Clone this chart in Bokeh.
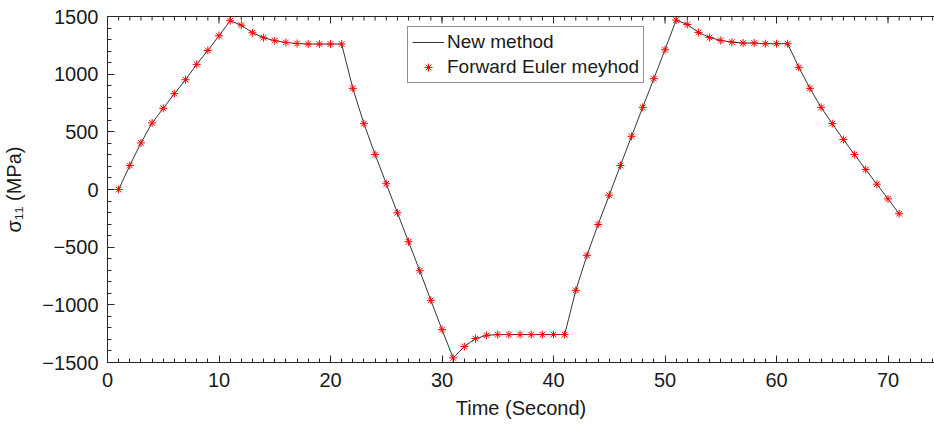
import math

from bokeh.embed import file_html
from bokeh.models import (FixedTicker, Legend, LegendItem, LinearAxis,
                          Range1d)
from bokeh.plotting import figure
from bokeh.resources import INLINE

# Time steps (s) and stress sigma_11 (MPa)
time_s = list(range(1, 72))

new_method = [
    0, 208, 404, 577, 704, 831, 952, 1085, 1206, 1333, 1463,
    1425, 1359, 1316, 1290, 1275, 1266, 1261, 1261, 1261, 1261,
    877, 571, 303, 50, -202, -453, -704, -961, -1215, -1460,
    -1362, -1293, -1264, -1258, -1258, -1258, -1258, -1258, -1258, -1258,
    -874, -571, -303, -49, 208, 461, 712, 961, 1212, 1469,
    1431, 1362, 1318, 1292, 1278, 1270, 1270, 1264, 1264, 1264,
    1059, 877, 712, 571, 433, 303, 173, 46, -81, -210,
]

forward_euler = [
    0, 208, 404, 577, 704, 831, 952, 1085, 1206, 1333, 1463,
    1425, 1359, 1316, 1290, 1275, 1266, 1261, 1261, 1261, 1261,
    877, 571, 303, 50, -202, -453, -704, -961, -1215, -1460,
    -1362, -1293, -1264, -1258, -1258, -1258, -1258, -1258, -1258, -1258,
    -874, -571, -303, -49, 208, 461, 712, 961, 1212, 1469,
    1431, 1362, 1318, 1292, 1278, 1270, 1270, 1264, 1264, 1264,
    1059, 877, 712, 571, 433, 303, 173, 46, -81, -210,
]

x_major = [0, 10, 20, 30, 40, 50, 60, 70]
x_minor = list(range(0, 75))
y_major = [-1500, -1000, -500, 0, 500, 1000, 1500]
y_minor = list(range(-1500, 1501, 100))

X_MAX = 74.17
Y_MIN, Y_MAX = -1500, 1500

FONT = "Liberation Sans"
AXIS_COLOR = "#262626"
TEXT_COLOR = "#1a1a1a"

p = figure(
    width=934, height=425,
    output_backend="svg", toolbar_location=None,
    x_range=Range1d(0, X_MAX), y_range=Range1d(Y_MIN, Y_MAX),
    x_axis_type=None, y_axis_type=None,
    min_border_left=107, min_border_right=0,
    min_border_top=16, min_border_bottom=63,
)
p.outline_line_color = None
p.background_fill_color = "white"
p.border_fill_color = "white"
p.xgrid.visible = False
p.ygrid.visible = False

x_ticker = FixedTicker(ticks=x_major, minor_ticks=x_minor)
y_ticker = FixedTicker(ticks=y_major, minor_ticks=y_minor)


def style_axis(ax):
    ax.axis_line_color = AXIS_COLOR
    ax.axis_line_width = 1
    ax.major_tick_line_color = AXIS_COLOR
    ax.minor_tick_line_color = AXIS_COLOR
    ax.major_tick_in = 7
    ax.major_tick_out = 0
    ax.minor_tick_in = 4
    ax.minor_tick_out = 0
    ax.major_label_text_font = FONT
    ax.major_label_text_font_size = "20px"
    ax.major_label_text_color = TEXT_COLOR
    ax.axis_label_text_font = FONT
    ax.axis_label_text_font_size = "20px"
    ax.axis_label_text_font_style = "normal"
    ax.axis_label_text_color = TEXT_COLOR


bottom = LinearAxis(ticker=x_ticker, axis_label="Time (Second)")
style_axis(bottom)
bottom.major_label_standoff = 10
bottom.axis_label_standoff = 7
p.add_layout(bottom, "below")

left = LinearAxis(ticker=y_ticker, axis_label="σ₁₁ (MPa)")
style_axis(left)
left.major_label_standoff = 9
left.axis_label_standoff = 14
p.add_layout(left, "left")

# Top box edge: a bare axis line, with inward ticks drawn as clipped dashes
top = LinearAxis(ticker=FixedTicker(ticks=[]))
top.axis_line_color = AXIS_COLOR
top.major_tick_line_color = None
top.minor_tick_line_color = None
p.add_layout(top, "above")

p.scatter(x_major, [Y_MAX] * len(x_major), marker="dash", angle=math.pi / 2,
          size=14, line_color=AXIS_COLOR, line_width=1)
p.scatter(x_minor, [Y_MAX] * len(x_minor), marker="dash", angle=math.pi / 2,
          size=8, line_color=AXIS_COLOR, line_width=1)

# Curves
line_r = p.line(time_s, new_method, line_color="black", line_width=0.8)
pts_r = p.scatter(time_s, forward_euler, marker="asterisk", size=8,
                  line_color="#ff0000", line_width=1)

legend = Legend(
    items=[LegendItem(label="New method", renderers=[line_r]),
           LegendItem(label="Forward Euler meyhod", renderers=[pts_r])],
    location=(300, 279),
    label_text_font=FONT, label_text_font_size="19px",
    label_text_color=TEXT_COLOR,
    glyph_width=32, glyph_height=20, label_height=20,
    label_standoff=3, spacing=3, padding=4, margin=0,
    border_line_color=AXIS_COLOR, border_line_width=1,
    background_fill_color="white", background_fill_alpha=1,
)
p.add_layout(legend, "center")

open("out.html", "w").write(file_html(p, INLINE))
